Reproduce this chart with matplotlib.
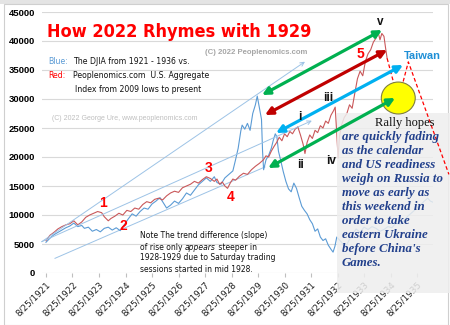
import matplotlib
matplotlib.use("Agg")
import matplotlib.pyplot as plt
from matplotlib.patches import Rectangle, Ellipse
from matplotlib import font_manager

# blue: DJIA 1921-1936 (scaled), red: aggregate index 2009->present
blue_years = [1921.65, 1921.8, 1921.95, 1922.1, 1922.25, 1922.4, 1922.55, 1922.7, 1922.85, 1923.0,
              1923.1, 1923.25, 1923.4, 1923.55, 1923.7, 1923.85, 1924.0, 1924.15, 1924.3, 1924.45,
              1924.6, 1924.75, 1924.9, 1925.05, 1925.2, 1925.35, 1925.5, 1925.65, 1925.8, 1925.95,
              1926.05, 1926.2, 1926.35, 1926.5, 1926.65, 1926.8, 1926.95, 1927.1, 1927.25, 1927.4,
              1927.55, 1927.7, 1927.85, 1928.0, 1928.1, 1928.25, 1928.4, 1928.55, 1928.7, 1928.8,
              1928.9, 1929.0, 1929.05, 1929.15, 1929.25, 1929.35, 1929.45, 1929.55, 1929.62, 1929.7,
              1929.78, 1929.82, 1929.86, 1929.95, 1930.05, 1930.15, 1930.22, 1930.3, 1930.36, 1930.42,
              1930.5, 1930.6, 1930.7, 1930.8, 1930.9, 1931.0, 1931.1, 1931.2, 1931.3, 1931.4,
              1931.5, 1931.6, 1931.7, 1931.8, 1931.9, 1932.0, 1932.1, 1932.2, 1932.3, 1932.4,
              1932.48, 1932.55, 1932.62, 1932.7, 1932.8, 1932.9, 1933.0, 1933.1, 1933.2, 1933.35,
              1933.5, 1933.65, 1933.8, 1933.95, 1934.1, 1934.25, 1934.4, 1934.55, 1934.7, 1934.85,
              1935.0, 1935.15, 1935.3, 1935.45, 1935.6, 1935.75, 1935.9, 1936.05, 1936.15, 1936.25]
blue_vals = [5300, 6000, 6600, 7000, 7400, 7800, 8100, 8600, 8000, 8200,
             7700, 7900, 7200, 7500, 7100, 7700, 7900, 7400, 7800, 7300,
             8300, 9300, 10200, 9800, 10600, 11200, 11000, 11900, 12400, 13000,
             12300, 11200, 11700, 12400, 12000, 12800, 13800, 13400, 14300, 15200,
             15800, 16400, 15800, 16600, 15600, 15300, 16400, 17000, 17600, 19500,
             21500, 24500, 25500, 24800, 25800, 24600, 27500, 29000, 30500, 28500,
             26500, 21000, 17800, 19500, 20300, 21500, 22800, 24000, 23500, 21000,
             19500, 17500, 15800, 14500, 14000, 15500, 14600, 13000, 11500, 10800,
             10200, 9200, 8500, 7200, 7600, 6200, 5600, 5900, 4800, 4100,
             3600, 4600, 6200, 5800, 5300, 4600, 4900, 5800, 6600, 7600,
             7000, 7900, 7500, 8000, 7700, 7200, 7500, 8000, 7800, 8600,
             8400, 9000, 9800, 10400, 11000, 11600, 12300, 12900, 12400, 12200]

red_years = [1921.65, 1921.8, 1921.95, 1922.1, 1922.25, 1922.4, 1922.55, 1922.7, 1922.85, 1923.0,
             1923.15, 1923.3, 1923.45, 1923.6, 1923.75, 1923.85, 1924.0, 1924.1, 1924.25, 1924.4,
             1924.55, 1924.7, 1924.85, 1925.0, 1925.15, 1925.3, 1925.45, 1925.6, 1925.75, 1925.9,
             1926.05, 1926.2, 1926.35, 1926.5, 1926.65, 1926.8, 1926.95, 1927.1, 1927.25, 1927.4,
             1927.55, 1927.7, 1927.85, 1928.0, 1928.1, 1928.2, 1928.3, 1928.4, 1928.5, 1928.6,
             1928.7, 1928.8, 1928.95, 1929.1, 1929.25, 1929.4, 1929.55, 1929.7, 1929.85, 1929.95,
             1930.05, 1930.15, 1930.25, 1930.35, 1930.45, 1930.55, 1930.65, 1930.75, 1930.85, 1930.95,
             1931.05, 1931.15, 1931.25, 1931.35, 1931.42, 1931.5, 1931.6, 1931.7, 1931.8, 1931.9,
             1932.0, 1932.1, 1932.2, 1932.3, 1932.4, 1932.5, 1932.56, 1932.62, 1932.67, 1932.72,
             1932.8, 1932.9, 1933.0, 1933.1, 1933.2, 1933.3, 1933.4, 1933.5, 1933.6, 1933.7,
             1933.8, 1933.9, 1934.0, 1934.1, 1934.18, 1934.25, 1934.32, 1934.4, 1934.47, 1934.52]
red_vals = [5600, 6500, 7000, 7600, 8000, 8300, 8500, 9000, 8300, 8800,
            9600, 10000, 10300, 10600, 10400, 9700, 9000, 9400, 9800, 10300,
            10000, 10800, 10600, 11200, 11000, 11800, 12300, 12100, 12700, 12900,
            12600, 13300, 13800, 14100, 13900, 14700, 15000, 15300, 15800, 15500,
            16100, 16600, 16300, 15800, 16200, 15300, 15700, 15000, 14600, 15500,
            16200, 16000, 16700, 17200, 17000, 17800, 18400, 18900, 19500, 20200,
            20000, 21000, 21800, 22500, 23400, 22800, 24000, 23500, 24400, 24000,
            24800, 25200, 23800, 22200, 20600, 22500, 23800, 23200, 24600, 24200,
            25400, 25000, 26200, 25800, 27200, 28000, 28600, 24000, 19800, 23500,
            25500, 26800, 27500, 29000, 28400, 31000, 33500, 34800, 34000, 36500,
            37800, 38500, 39800, 40500, 41500, 40200, 41300, 40800, 38500, 37000]

# projected path (red dashed)
proj_years = [1934.52, 1934.94, 1935.32, 1936.85]
proj_vals = [37000, 29800, 36400, 17000]

# thin trend lines (start, end)
trend_x = [(1921.49, 1931.42), (1921.49, 1931.68), (1921.99, 1929.91)]
trend_y = [(5400, 36430), (5400, 26260), (2530, 18280)]
trend_arrow = [True, True, False]

# big double arrows
arrow_x = [(1929.80, 1934.33), (1929.91, 1934.52), (1930.33, 1935.12), (1930.03, 1934.82)]
arrow_y = [(30690, 41890), (27240, 38450), (24140, 35860), (18100, 30170)]
arrow_colors = ["#00b050", "#c00000", "#00b0f0", "#00b050"]

tick_years = [1921.65 + k for k in range(15)]
tick_labels = ["8/25/%d" % (1921 + k) for k in range(15)]
y_ticks = list(range(0, 45001, 5000))

W, H = 450, 325


def fx(x):
    return x / W


def fy(y):
    return 1 - y / H


def has_font(name):
    try:
        font_manager.findfont(font_manager.FontProperties(family=name), fallback_to_default=False)
        return True
    except Exception:
        return False


NARROW = has_font("Liberation Sans Narrow")
if NARROW:
    cond = dict(family="Liberation Sans Narrow")
    title_size, leg_size = 15.5, 7.0
else:
    cond = dict(family="DejaVu Sans", fontstretch="condensed")
    title_size, leg_size = 13, 6.2

fig = plt.figure(figsize=(4.5, 3.25), dpi=100)
fig.patch.set_facecolor("white")
fig.patches.append(Rectangle((0, fy(4)), 1, 4 / H, transform=fig.transFigure,
                             facecolor="#e4e4e4", edgecolor="none", zorder=-5))
fig.patches.append(Rectangle((fx(4), 0), fx(444), fy(4), transform=fig.transFigure,
                             facecolor="none", edgecolor="#cfcfcf", lw=0.8, zorder=-4))

ax = fig.add_axes([fx(42), 52 / H, fx(433 - 42), 261 / H])
ax.set_xlim(1921.5, 1936.25)
ax.set_ylim(0, 45000)
for s in ax.spines.values():
    s.set_visible(False)
ax.set_yticks(y_ticks)
ax.set_yticklabels([str(v) for v in y_ticks], fontsize=6.8, fontweight="bold",
                   family="Liberation Sans")
ax.tick_params(axis="y", length=0, pad=5)
ax.set_xticks(tick_years)
ax.set_xticklabels(tick_labels, rotation=45, ha="right", rotation_mode="anchor",
                   fontsize=6.3, color="#222222")
ax.tick_params(axis="x", length=3, color="#bfbfbf", pad=2)
ax.grid(axis="y", color="#d9d9d9", lw=0.8)
ax.set_axisbelow(True)

for (x0, x1), (y0, y1), arr in zip(trend_x, trend_y, trend_arrow):
    if arr:
        ax.annotate("", xy=(x1, y1), xytext=(x0, y0),
                    arrowprops=dict(arrowstyle="->", color="#9dc3e6", lw=0.7,
                                    shrinkA=0, shrinkB=0, mutation_scale=7))
    else:
        ax.plot([x0, x1], [y0, y1], color="#9dc3e6", lw=0.7)

ax.plot(blue_years, blue_vals, color="#5b9bd5", lw=0.8, zorder=2)
ax.plot(red_years, red_vals, color="#c9585a", lw=0.8, zorder=2.2)
ax.plot(proj_years, proj_vals, color="#ff0000", lw=0.9, ls=(0, (3, 2)), zorder=3, clip_on=False)

# gray note box on the right
ax.add_patch(Rectangle((fx(337), fy(293)), fx(450 - 337), (293 - 113) / H,
                       transform=fig.transFigure, clip_on=False, facecolor="#eeeeee",
                       edgecolor="none", alpha=0.85, zorder=2.5))

for (x0, x1), (y0, y1), c in zip(arrow_x, arrow_y, arrow_colors):
    ax.annotate("", xy=(x1, y1), xytext=(x0, y0),
                arrowprops=dict(arrowstyle="<|-|>", color=c, lw=2.3,
                                shrinkA=0, shrinkB=0, mutation_scale=11), zorder=4)

ax.add_patch(Ellipse((1934.94, 30170), 1.28, 5500, facecolor="#ffff00",
                     edgecolor="#7f7f3f", lw=0.8, zorder=3.5, clip_on=False))

# wave counts
for t, x, y in [("1", 1923.80, 12070), ("2", 1924.56, 8100), ("3", 1927.77, 18100),
                ("4", 1928.60, 13100), ("5", 1933.5, 37760)]:
    ax.text(x, y, t, color="#ff0000", fontsize=10, fontweight="bold", ha="center",
            va="center", family="Liberation Sans", zorder=5)
for t, x, y in [("i", 1931.23, 26900), ("ii", 1931.27, 18620), ("iii", 1932.29, 30170),
                ("iv", 1932.4, 19310), ("v", 1934.26, 43270)]:
    ax.text(x, y, t, color="#111111", fontsize=8.5, fontweight="bold", ha="center",
            va="center", family="Liberation Sans", zorder=5)

# headings
fig.text(fx(47), fy(32), "How 2022 Rhymes with 1929", color="#ff0000", fontsize=title_size,
         fontweight="bold", va="center", **cond)
fig.text(fx(48), fy(61), "Blue:", color="#5b9bd5", fontsize=leg_size, va="center", **cond)
fig.text(fx(73), fy(61), "The DJIA from 1921 - 1936 vs.", color="#111111", fontsize=leg_size,
         va="center", **cond)
fig.text(fx(48), fy(75), "Red:", color="#ff0000", fontsize=leg_size, va="center", **cond)
fig.text(fx(73), fy(75), "Peoplenomics.com  U.S. Aggregate", color="#111111", fontsize=leg_size,
         va="center", **cond)
fig.text(fx(75), fy(89), "Index from 2009 lows to present", color="#111111", fontsize=leg_size,
         va="center", **cond)
fig.text(fx(205), fy(52), "(C) 2022 Peoplenomics.com", color="#a6a6a6", fontsize=5.6,
         fontweight="bold", va="center", family="Liberation Sans")
fig.text(fx(52), fy(118), "(C) 2022 George Ure, www.peoplenomics.com", color="#bfbfbf",
         fontsize=5, va="center", family="Liberation Sans")

# note
note_kw = dict(fontsize=5.5, color="#111111", family="DejaVu Sans", zorder=6)
fig.text(fx(140), fy(236), "Note The trend difference (slope)", va="center", **note_kw)
n1 = fig.text(fx(140), fy(247), "of rise only ", va="center", **note_kw)
n2 = ax.annotate("appears", xy=(1, 0), xycoords=n1, va="bottom", style="italic", **note_kw)
ax.annotate(" steeper in", xy=(1, 0), xycoords=n2, va="bottom", **note_kw)
fig.text(fx(140), fy(258), "1928-1929 due to Saturday trading", va="center", **note_kw)
fig.text(fx(140), fy(269), "sessions started in mid 1928.", va="center", **note_kw)

fig.text(fx(422), fy(56), "Taiwan", color="#1f8fd6", fontsize=8, fontweight="bold",
         ha="center", va="center", family="Liberation Sans", zorder=6)
fig.text(fx(405), fy(123), "Rally hopes", color="#111111", fontsize=9, ha="center",
         va="center", family="Liberation Serif", zorder=6)
rally = ["are quickly fading", "as the calendar", "and US readiness", "weigh on Russia to",
         "move as early as", "this weekend in", "order to take", "eastern Ukraine",
         "before China's", "Games."]
for i, line in enumerate(rally):
    fig.text(fx(342), fy(137 + 14 * i), line, color="#22408c", fontsize=9.3, style="italic",
             fontweight="bold", va="center", family="Liberation Serif", zorder=6)

fig.savefig("out.png", dpi=100)
